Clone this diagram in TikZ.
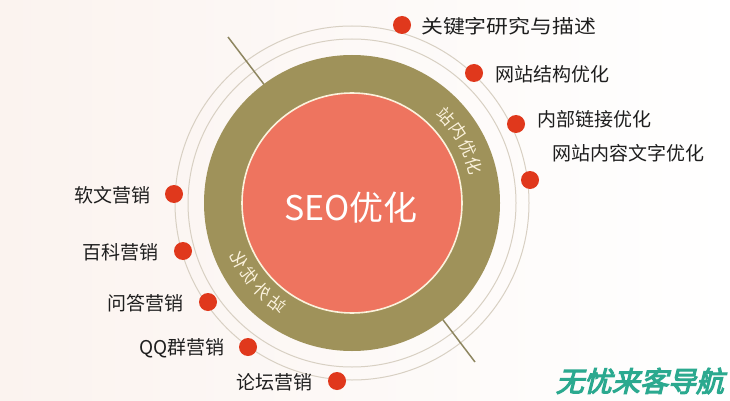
\documentclass[tikz,border=0pt]{standalone}
\usepackage{fontspec}
\newfontfamily\cjk{Noto Sans CJK SC}
\newfontfamily\wmfont[FakeSlant=0.25,FakeBold=4]{Noto Sans CJK SC}
\definecolor{ringolive}{HTML}{9F925A}
\definecolor{discred}{HTML}{EE745F}
\definecolor{dotred}{HTML}{E0381C}
\definecolor{thingray}{HTML}{D8D0C3}
\definecolor{axisline}{HTML}{8E8660}
\definecolor{cream}{HTML}{FBF2DC}
\definecolor{labelgray}{HTML}{1E1E1E}
\definecolor{wmteal}{HTML}{2BA98F}
\definecolor{bgtint}{HTML}{FBF3EF}
\begin{document}
\begin{tikzpicture}[x=1pt,y=-1pt,
  dot/.style={circle,fill=dotred,minimum size=18pt,inner sep=0pt},
  lbl/.style={font=\cjk\fontsize{19}{19}\selectfont,text=labelgray,inner sep=0pt},
  ringtxt/.style={font=\cjk\fontsize{17}{17}\selectfont,text=cream,inner sep=0pt},
  thinring/.style={draw=thingray,line width=1pt}]
\useasboundingbox (0,0) rectangle (730,401);
\shade[left color=bgtint,right color=white] (0,0) rectangle (730,401);
% thin circles
\coordinate (c) at (352,203);
\draw[thinring] (c) circle[radius=164];
\draw[thinring] (c) circle[radius=177];
% diagonal axis
\coordinate (ax1) at (228,37);
\coordinate (ax2) at (475,362);
\draw[axisline,line width=1.5pt] (ax1) -- (ax2);
% rings
\fill[ringolive] (c) circle[radius=148];
\fill[discred,draw=cream,line width=1.6pt] (c) circle[radius=110];
\node[font=\cjk\fontsize{34}{34}\selectfont,text=white,inner sep=0pt] (seo) at (351,208) {SEO优化};
% curved ring texts
\foreach \t/\ch [count=\i] in {42.5/站,34/内,25.5/优,17/化}
  \node[ringtxt,rotate=\t-90] (in\i) at ({352+128*cos(\t)},{203-128*sin(\t)}) {\ch};
\foreach \t/\ch [count=\i] in {233.5/站,224.5/外,215.5/优,207/化}
  \node[ringtxt,rotate=\t+90] (out\i) at ({352+126*cos(\t)},{203-126*sin(\t)}) {\scalebox{-1}[1]{\ch}};
% dots
\node[dot] (d1) at (402,25) {};
\node[dot] (d2) at (474,73) {};
\node[dot] (d3) at (516,124) {};
\node[dot] (d4) at (530,180) {};
\node[dot] (d5) at (174,194) {};
\node[dot] (d6) at (183,251) {};
\node[dot] (d7) at (208,302) {};
\node[dot] (d8) at (248,347) {};
\node[dot] (d9) at (337,381) {};
% labels
\node[lbl,anchor=west] (l1) at (421,26) {\scalebox{1.15}[1]{关键字研究与描述}};
\node[lbl,anchor=west] (l2) at (495,74) {网站结构优化};
\node[lbl,anchor=west] (l3) at (537,119) {内部链接优化};
\node[lbl,anchor=west] (l4) at (552,153) {网站内容文字优化};
\node[lbl,anchor=east] (l5) at (151,195) {软文营销};
\node[lbl,anchor=east] (l6) at (159,252) {百科营销};
\node[lbl,anchor=east] (l7) at (184,303) {问答营销};
\node[lbl,anchor=east] (l8) at (225,348) {QQ群营销};
\node[lbl,anchor=east] (l9) at (313,382) {论坛营销};
% watermark
\node[font=\wmfont\fontsize{28}{28}\selectfont,text=wmteal,anchor=east,inner sep=0pt] (wm) at (724,381) {无忧来客导航};
\end{tikzpicture}
\end{document}
